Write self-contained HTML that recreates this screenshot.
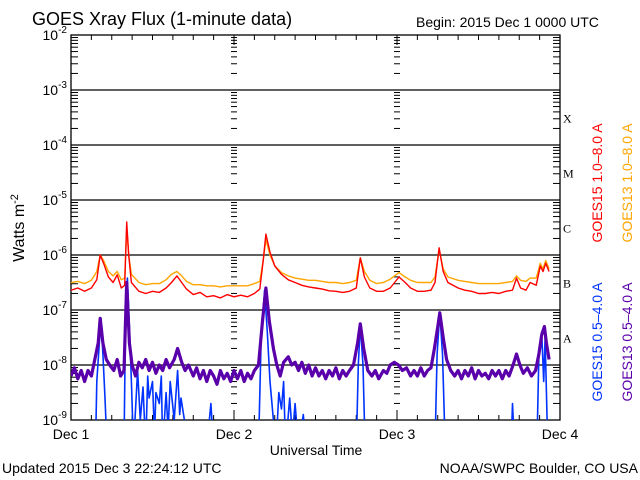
<!DOCTYPE html>
<html><head><meta charset="utf-8"><style>
html,body{margin:0;padding:0;background:#fff;}
svg{display:block;font-family:"Liberation Sans",sans-serif;}
</style></head><body>
<svg id="chart" width="640" height="480" viewBox="0 0 640 480" xmlns="http://www.w3.org/2000/svg">
<rect x="0" y="0" width="640" height="480" fill="#fff"/>
<text x="32" y="25" font-size="18" fill="#000">GOES Xray Flux (1-minute data)</text>
<text x="416" y="27" font-size="14" fill="#000">Begin:  2015 Dec 1 0000 UTC</text>
<text transform="translate(24,228) rotate(-90)" text-anchor="middle" font-size="16" fill="#000">Watts m<tspan dy="-6" font-size="11">-2</tspan></text>
<text x="316" y="455" text-anchor="middle" font-size="14" fill="#000">Universal Time</text>
<text x="2" y="473" font-size="14" fill="#000">Updated 2015 Dec  3 22:24:12 UTC</text>
<text x="638" y="473" text-anchor="end" font-size="14" fill="#000">NOAA/SWPC Boulder, CO USA</text>
<text transform="translate(602,183) rotate(-90)" text-anchor="middle" font-size="14" fill="#ff0000">GOES15 1.0–8.0 A</text>
<text transform="translate(632,183) rotate(-90)" text-anchor="middle" font-size="14" fill="#ffa500">GOES13 1.0–8.0 A</text>
<text transform="translate(602,342) rotate(-90)" text-anchor="middle" font-size="14" fill="#0033ff">GOES15 0.5–4.0 A</text>
<text transform="translate(632,342) rotate(-90)" text-anchor="middle" font-size="14" fill="#5a00aa">GOES13 0.5–4.0 A</text>
<g id="axes"></g>
<g id="series"></g>
</svg>
<script>
const dayLabels=["Dec 1","Dec 2","Dec 3","Dec 4"];
const decadeExps=[-9,-8,-7,-6,-5,-4,-3,-2];
const classLetters=["A","B","C","M","X"];
const classExps=[-8,-7,-6,-5,-4];
const red=[[0,-6.64],[1,-6.6],[2,-6.66],[3,-6.6],[3.8,-6.45],[4.3,-6.0],[4.8,-6.15],[5.5,-6.4],[6.2,-6.5],[6.8,-6.36],[7.4,-6.6],[7.9,-6.55],[8.2,-5.4],[8.5,-6.0],[8.9,-6.5],[10,-6.66],[11,-6.7],[12,-6.66],[13,-6.68],[14,-6.6],[14.8,-6.5],[15.6,-6.38],[16.3,-6.5],[17,-6.62],[18,-6.72],[19,-6.68],[20,-6.76],[21,-6.74],[22,-6.78],[23,-6.72],[24,-6.76],[25,-6.73],[26,-6.76],[27,-6.7],[27.8,-6.62],[28.3,-6.1],[28.7,-5.62],[29.3,-5.95],[30,-6.2],[31,-6.35],[32,-6.45],[33,-6.5],[34,-6.55],[35,-6.58],[36,-6.6],[37,-6.62],[38,-6.65],[39,-6.66],[40,-6.68],[41,-6.66],[42,-6.6],[42.6,-6.05],[43.2,-6.4],[44,-6.6],[45,-6.66],[46,-6.66],[47,-6.6],[48.3,-6.4],[49.2,-6.5],[50,-6.6],[51,-6.66],[52,-6.66],[53,-6.64],[53.6,-6.5],[54.2,-5.87],[54.8,-6.3],[55.5,-6.5],[57,-6.6],[58,-6.64],[59,-6.66],[60,-6.7],[61,-6.7],[62,-6.68],[63,-6.7],[64,-6.66],[65,-6.64],[65.6,-6.42],[66.2,-6.6],[67,-6.64],[67.6,-6.5],[68.5,-6.55],[69.1,-6.2],[69.5,-6.3],[69.9,-6.15],[70.4,-6.3]];
const orange=[[0,-6.5],[1,-6.48],[2,-6.52],[3,-6.46],[3.8,-6.3],[4.3,-6.0],[4.8,-6.1],[5.5,-6.3],[6.2,-6.38],[6.8,-6.3],[7.4,-6.45],[7.9,-6.42],[8.2,-5.5],[8.5,-6.0],[8.9,-6.35],[10,-6.5],[11,-6.54],[12,-6.52],[13,-6.52],[14,-6.45],[14.8,-6.35],[15.6,-6.3],[16.3,-6.38],[17,-6.48],[18,-6.54],[19,-6.54],[20,-6.56],[21,-6.56],[22,-6.58],[23,-6.56],[24,-6.56],[25,-6.56],[26,-6.56],[27,-6.52],[27.8,-6.48],[28.3,-6.1],[28.7,-5.72],[29.3,-6.0],[30,-6.2],[31,-6.32],[32,-6.38],[33,-6.42],[34,-6.44],[35,-6.46],[36,-6.46],[37,-6.48],[38,-6.5],[39,-6.5],[40,-6.52],[41,-6.5],[42,-6.46],[42.6,-6.05],[43.2,-6.3],[44,-6.46],[45,-6.52],[46,-6.5],[47,-6.44],[48.3,-6.32],[49.2,-6.4],[50,-6.46],[51,-6.5],[52,-6.5],[53,-6.5],[53.6,-6.4],[54.2,-5.9],[54.8,-6.25],[55.5,-6.4],[57,-6.46],[58,-6.48],[59,-6.5],[60,-6.52],[61,-6.52],[62,-6.52],[63,-6.52],[64,-6.5],[65,-6.48],[65.6,-6.38],[66.2,-6.46],[67,-6.48],[67.6,-6.42],[68.5,-6.42],[69.1,-6.15],[69.5,-6.25],[69.9,-6.1],[70.4,-6.25]];
const purple=[[0,-8.2],[0.5,-8.05],[1,-8.25],[1.5,-8.1],[2,-8.3],[2.5,-8.1],[3,-8.2],[3.5,-7.9],[4.0,-7.6],[4.3,-7.15],[4.7,-7.6],[5.2,-7.9],[5.7,-8.0],[6.3,-8.1],[6.8,-7.9],[7.3,-8.2],[7.8,-8.1],[8.2,-6.5],[8.6,-7.6],[9.0,-8.0],[9.5,-8.2],[10,-7.95],[10.5,-8.05],[11,-7.9],[11.5,-8.1],[12,-7.95],[12.5,-8.15],[13,-8.0],[13.5,-8.1],[14,-7.9],[14.5,-8.05],[15.2,-7.9],[15.7,-7.7],[16.3,-7.95],[16.8,-8.1],[17.3,-8.0],[18,-8.2],[18.5,-8.05],[19,-8.25],[19.5,-8.1],[20,-8.3],[20.5,-8.1],[21,-8.2],[21.5,-8.35],[22,-8.1],[22.5,-8.25],[23,-8.15],[23.5,-8.3],[24,-8.1],[24.5,-8.25],[25,-8.1],[25.5,-8.3],[26,-8.15],[26.5,-8.25],[27,-8.1],[27.6,-8.0],[28.2,-7.2],[28.7,-6.6],[29.2,-7.2],[29.8,-7.7],[30.3,-8.0],[30.8,-8.2],[31.3,-7.95],[32,-7.85],[32.5,-8.0],[33,-7.95],[33.5,-8.1],[34,-7.95],[34.5,-8.15],[35,-8.0],[35.5,-8.2],[36,-8.05],[36.5,-8.2],[37,-8.1],[37.5,-8.25],[38,-8.1],[38.5,-8.2],[39,-8.05],[39.5,-8.25],[40,-8.1],[40.5,-8.2],[41,-8.1],[41.6,-8.0],[42.2,-7.6],[42.6,-7.25],[43.1,-7.7],[43.7,-8.1],[44.3,-8.2],[44.8,-8.1],[45.3,-8.25],[46,-8.1],[46.5,-8.15],[47,-8.0],[47.6,-7.95],[48.2,-8.0],[48.8,-8.1],[49.4,-8.05],[50,-8.2],[50.5,-8.1],[51,-8.2],[51.5,-8.05],[52,-8.2],[52.5,-8.1],[53,-8.05],[53.5,-7.7],[54.0,-7.3],[54.3,-7.05],[54.8,-7.5],[55.3,-7.9],[55.9,-8.1],[56.5,-8.2],[57,-8.1],[57.5,-8.25],[58,-8.1],[58.5,-8.2],[59,-8.05],[59.5,-8.25],[60,-8.1],[60.5,-8.2],[61,-8.15],[61.5,-8.25],[62,-8.1],[62.5,-8.2],[63,-8.1],[63.5,-8.25],[64,-8.1],[64.5,-8.2],[65.1,-8.0],[65.6,-7.8],[66.1,-8.0],[66.6,-8.15],[67.2,-8.05],[67.8,-8.2],[68.4,-8.1],[68.9,-7.8],[69.3,-7.45],[69.7,-7.3],[70.0,-7.6],[70.4,-7.9]];
const blue=[[0,-9.5],[3.6,-9.5],[3.8,-8.3],[4.2,-7.55],[4.4,-7.15],[4.7,-7.8],[5.0,-8.6],[5.3,-9.5],[7.8,-9.5],[8.0,-7.5],[8.3,-6.42],[8.6,-7.3],[8.9,-8.3],[9.2,-9.5],[9.8,-8.1],[10.2,-9.0],[10.6,-8.4],[11.0,-9.5],[11.3,-8.2],[11.5,-8.6],[12.0,-8.3],[12.3,-9.3],[12.5,-8.5],[13.0,-8.7],[13.3,-8.2],[13.5,-9.5],[14.0,-8.5],[14.3,-9.2],[14.6,-8.3],[15.2,-9.0],[15.7,-8.1],[16.0,-8.9],[16.2,-8.6],[16.7,-9.0],[17.3,-9.5],[20,-9.5],[20.6,-8.7],[21,-9.5],[27.6,-9.5],[28.0,-7.5],[28.5,-6.64],[28.9,-7.4],[29.3,-8.3],[29.8,-9.0],[30.2,-9.5],[30.6,-8.5],[31,-8.8],[31.3,-8.3],[31.6,-9.5],[32.2,-8.6],[32.6,-9.3],[33,-8.7],[33.5,-9.5],[34.2,-8.9],[34.6,-9.5],[42.0,-9.5],[42.3,-8.0],[42.6,-7.27],[43.0,-8.0],[43.3,-9.5],[53.6,-9.5],[53.9,-7.8],[54.3,-7.05],[54.7,-7.8],[55.1,-9.5],[64.8,-9.5],[65.0,-8.7],[65.3,-9.5],[68.6,-9.5],[68.9,-7.8],[69.3,-7.4],[69.6,-8.3],[69.8,-7.5],[70.1,-9.0],[70.4,-9.5]];

const L=71,R=560,T=35,B=420,HOURS=72;
const xs=h=>L+(R-L)*h/HOURS;
const ys=v=>B-(v+9)*(B-T)/7;
const NS="http://www.w3.org/2000/svg";
function mk(tag,attrs,parent){const e=document.createElementNS(NS,tag);for(const k in attrs)e.setAttribute(k,attrs[k]);parent.appendChild(e);return e;}
const ax=document.getElementById('axes');
const defs=mk('defs',{},document.getElementById('chart'));
const cp=mk('clipPath',{id:'plotclip'},defs);
mk('rect',{x:L,y:T,width:R-L,height:B-T},cp);
decadeExps.forEach(e=>{
  const y=ys(e);
  if(e>-9&&e<-2){const g=mk('line',{x1:L,x2:R,y1:y,y2:y,stroke:'#000','stroke-width':1.3},ax);
  
  }
  const t=mk('text',{x:L-4,y:y+5,'text-anchor':'end','font-size':14,fill:'#000'},ax);
  
  
  t.textContent='10';
  const s=mk('tspan',{dy:-7,'font-size':10},t);s.textContent=String(e);
  if(e<-2){for(let m=2;m<=9;m++){const yy=ys(e+Math.log10(m));
    mk('line',{x1:L,x2:L+7,y1:yy,y2:yy,stroke:'#000'},ax);
    mk('line',{x1:R-7,x2:R,y1:yy,y2:yy,stroke:'#000'},ax);
    for(let d=1;d<=2;d++){const xd=xs(d*24);mk('line',{x1:xd-3,x2:xd+3,y1:yy,y2:yy,stroke:'#000'},ax);}
  }}
});
classLetters.forEach((c,i)=>{const t=mk('text',{x:R+3,y:ys(classExps[i]+0.5)+5,'font-size':12,'font-family':'Liberation Serif,serif',fill:'#000'},ax);
  
  
  t.textContent=c;});
for(let h=0;h<=HOURS;h+=3){const x=xs(h);const len=h%24===0?10:5;
  mk('line',{x1:x,x2:x,y1:T,y2:T+len,stroke:'#000'},ax);
  mk('line',{x1:x,x2:x,y1:B,y2:B-len,stroke:'#000'},ax);}
dayLabels.forEach((d,i)=>{const t=mk('text',{x:xs(i*24),y:439,'text-anchor':'middle','font-size':14,fill:'#000'},ax);
  
  
  t.textContent=d;});
const fr=mk('rect',{x:L,y:T,width:R-L,height:B-T,fill:'none',stroke:'#000','stroke-width':1.3},ax);


const sg=document.getElementById('series');sg.setAttribute('clip-path','url(#plotclip)');
function draw(data,color,name,w){const d=data.map((p,i)=>(i?'L':'M')+xs(p[0]).toFixed(1)+' '+ys(p[1]).toFixed(1)).join(' ');
  const p=mk('path',{d:d,fill:'none',stroke:color,'stroke-width':w,'stroke-linejoin':'round'},sg);
  
  }
draw(blue,'#0033ff','series-goes15-short',1.6);
draw(purple,'#5a00aa','series-goes13-short',3.2);
draw(orange,'#ffa500','series-goes13-long',1.4);
draw(red,'#ff0000','series-goes15-long',1.4);
</script>
</body></html>
